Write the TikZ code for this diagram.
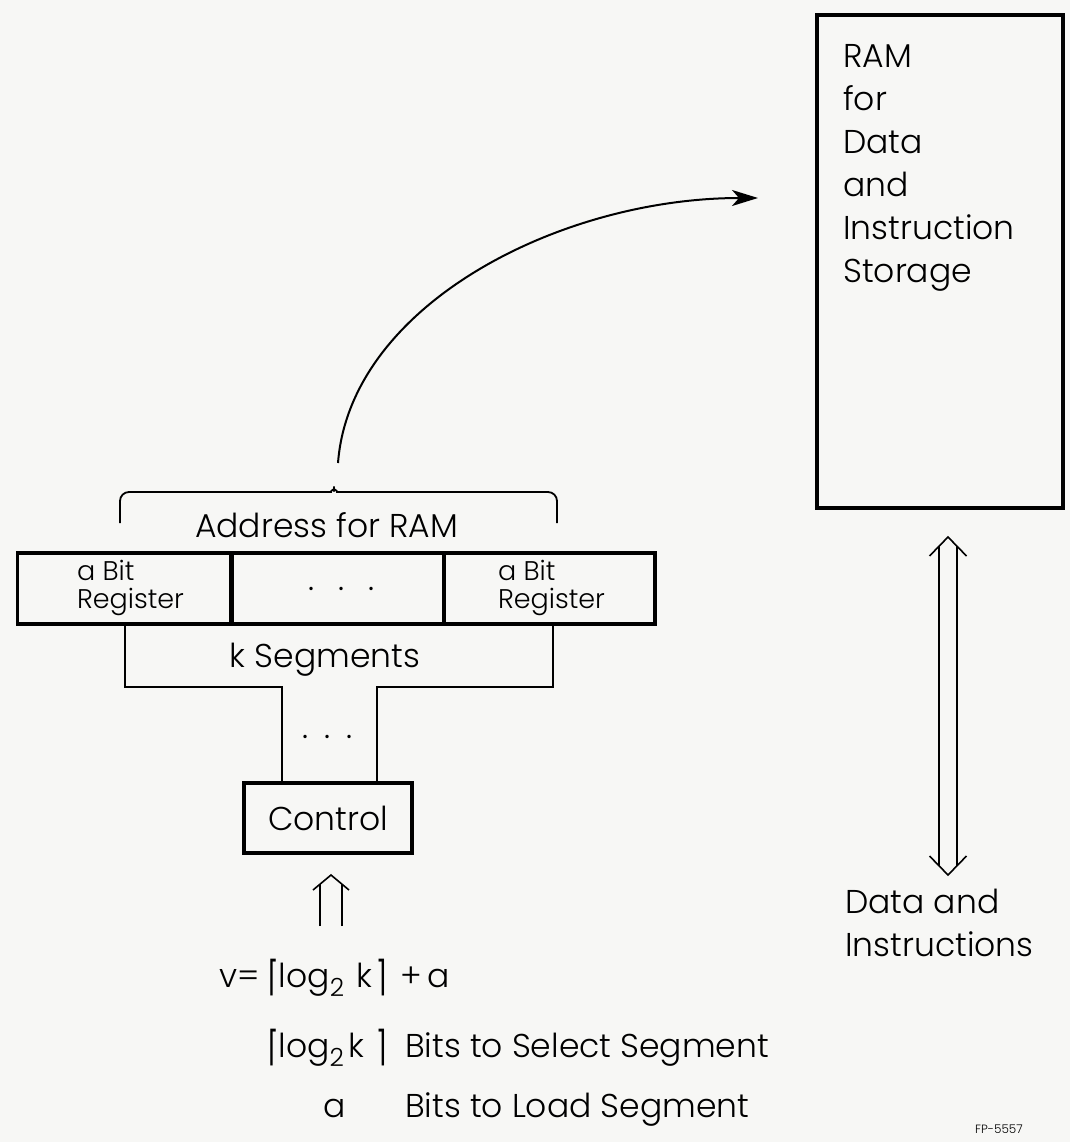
\documentclass[tikz,border=0pt]{standalone}
\usepackage{fontspec}
\setmainfont{Poppins}[UprightFont=* Light]
\newfontfamily\dvsym{DejaVu Sans}
\newcommand{\lcl}{{\dvsym\raisebox{-0.12em}{\scalebox{0.8}[1.25]{⌈}}}}
\newcommand{\rcl}{{\dvsym\raisebox{-0.12em}{\scalebox{0.8}[1.25]{⌉}}}}
\newcommand{\subtwo}{\raisebox{-0.3em}{\fontsize{25}{25}\selectfont 2}}
\usetikzlibrary{arrows.meta,calc}
\definecolor{paper}{RGB}{247,247,245}
\begin{document}
\begin{tikzpicture}[x=1pt,y=-1pt,
  box/.style={draw, line width=3.5pt, rectangle, inner sep=0pt, outer sep=0pt},
  conn/.style={line width=1.8pt},
  big/.style={font=\fontsize{33}{43}\selectfont, inner sep=0pt},
  small/.style={font=\fontsize{27}{28}\selectfont, align=left, inner sep=0pt},
  dbl/.style={line width=1.6pt, line join=miter},
]
\fill[paper] (0,0) rectangle (1070,1142);
\useasboundingbox (0,0) rectangle (1070,1142);

% RAM box
\node[box, minimum width=246pt, minimum height=493pt] (ram) at (940,261.5) {};
\node[big, align=left, anchor=north west] (ramtxt) at (843,44)
  {RAM\\for\\Data\\and\\Instruction\\Storage};

% register row
\node[box, minimum width=215pt, minimum height=71pt] (cellA) at (125,588.5) {};
\node[box, minimum width=213pt, minimum height=71pt] (cellB) at (337.5,588.5) {};
\node[box, minimum width=211pt, minimum height=71pt] (cellC) at (549.5,588.5) {};
\node[small] (regA) at (130.5,588) {a Bit\\Register};
\node[small] (regC) at (551.5,588) {a Bit\\Register};
\node[big, anchor=base] (dotsA) at (342,590) {.\hspace{24pt}.\hspace{24pt}.};

% address label and brace
\node[big, anchor=base] (addr) at (326.5,537) {Address for RAM};
\draw[conn, rounded corners=9pt] (120,523) -- (120,492) -- (322,492)
  .. controls (330,492) and (334,488) .. (334,481)
  .. controls (334,488) and (338,492) .. (346,492) -- (557,492) -- (557,523);

% curved arrow to RAM
\coordinate (bt) at (338,463);
\coordinate (ramin) at (758,198);
\draw[line width=2pt, -{Stealth[length=26pt,width=16pt,inset=7pt]}]
  (bt) .. controls (350,305) and (560,198) .. (ramin);

% k segments
\node[big, anchor=base] (kseg) at (325,667) {k Segments};

% control
\node[box, big, minimum width=168pt, minimum height=70pt] (ctrl) at (328,818) {Control};

% connectors register -> control
\draw[conn] ([xshift=107.5pt]cellA.south west) -- ++(0,63) -| ([xshift=38pt]ctrl.north west);
\draw[conn] ([xshift=-102pt]cellC.south east) -- ++(0,63) -| ([xshift=-35pt]ctrl.north east);
\node[big, anchor=base] (dotsB) at (328,738) {.\hspace{16pt}.\hspace{16pt}.};

% double arrow into control
\coordinate (upb) at (331,926);
\coordinate (upt) at ($(ctrl.south)+(3,22)$);
\draw[dbl] ($(upb)+(-11,0)$) -- ($(upt)+(-11,9)$);
\draw[dbl] ($(upb)+(11,0)$) -- ($(upt)+(11,9)$);
\draw[dbl] ($(upt)+(-18,15)$) -- (upt) -- ($(upt)+(18,15)$);

% formula lines
\node[big, anchor=base west] (eq) at (219,987)
  {v= \lcl log\subtwo\hspace{12pt}k\hspace{4pt}\rcl\hspace{14pt}+\hspace{6pt}a};
\node[big, anchor=base west] (selA) at (268,1057)
  {\lcl log\subtwo\hspace{5pt}k\hspace{12pt}\rcl};
\node[big, anchor=base west] (selB) at (405,1057) {Bits to Select Segment};
\node[big, anchor=base west] (aa) at (323,1117) {a};
\node[big, anchor=base west] (load) at (405,1117) {Bits to Load Segment};

% double arrow RAM <-> data
\coordinate (dt) at ($(ram.south)+(8,29)$);
\coordinate (db) at (948,875);
\draw[dbl] ($(dt)+(-9,9)$) -- ($(db)+(-9,-9)$);
\draw[dbl] ($(dt)+(9,9)$) -- ($(db)+(9,-9)$);
\draw[dbl] ($(dt)+(-18.5,19)$) -- (dt) -- ($(dt)+(18.5,19)$);
\draw[dbl] ($(db)+(-18.5,-19)$) -- (db) -- ($(db)+(18.5,-19)$);

\node[big, align=left, anchor=north west] (data) at (845,889) {Data and\\Instructions};

\node[font=\fontsize{12}{12}\selectfont, inner sep=0pt, anchor=base west] (fp) at (975,1133) {FP-5557};
\end{tikzpicture}
\end{document}
